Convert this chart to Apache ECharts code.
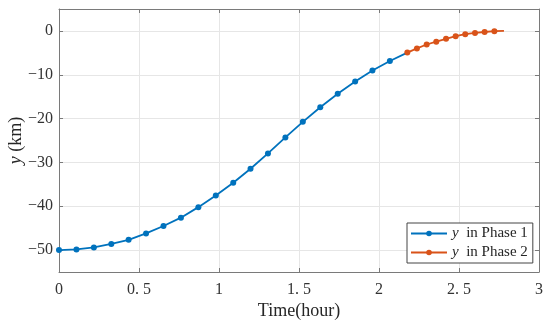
<!DOCTYPE html>
<html>
<head>
<meta charset="utf-8">
<script src="https://cdn.jsdelivr.net/npm/echarts@6/dist/echarts.min.js"></script>
<style>html,body{margin:0;padding:0;background:#fff}#c{width:550px;height:326px}</style>
</head>
<body>
<div id="c"></div>
<script>
var phase1Time = [0, 0.109, 0.218, 0.327, 0.435, 0.544, 0.653, 0.762, 0.871, 0.980, 1.089, 1.197, 1.306, 1.415, 1.524, 1.633, 1.742, 1.851, 1.959, 2.068, 2.177];
var phase1Y = [-50, -49.85, -49.4, -48.6, -47.65, -46.2, -44.5, -42.6, -40.2, -37.55, -34.65, -31.45, -27.95, -24.3, -20.75, -17.4, -14.35, -11.55, -9.05, -6.85, -4.95];
var phase2Time = [2.177, 2.237, 2.298, 2.358, 2.419, 2.479, 2.539, 2.600, 2.660, 2.721, 2.781];
var phase2Y = [-4.95, -4.0, -3.1, -2.45, -1.8, -1.2, -0.75, -0.45, -0.25, -0.05, 0];
var xTicks = [0, 0.5, 1, 1.5, 2, 2.5, 3];
var yTicks = [-50, -40, -30, -20, -10, 0];

function build(t, y) {
  return t.map(function (v, i) {
    var item = { value: [v, y[i]] };
    if (i === t.length - 1) item.symbol = 'none';
    return item;
  });
}
var serif = 'Liberation Serif';
var axisCol = '#7a7a7a';
var chart = echarts.init(document.getElementById('c'));
chart.setOption({
  animation: false,
  backgroundColor: '#fff',
  grid: { left: 59, right: 11, top: 9, bottom: 54, containLabel: false, outerBoundsMode: 'none' },
  legend: {
    left: 407, top: 223,
    orient: 'vertical',
    itemWidth: 36, itemHeight: 7, itemGap: 4,
    padding: [3, 5, 3, 3],
    backgroundColor: '#fff',
    borderColor: '#444', borderWidth: 1, borderRadius: 0,
    textStyle: {
      fontFamily: serif, fontSize: 15, color: '#262626',
      rich: { it: { fontFamily: serif, fontStyle: 'italic', fontSize: 15, color: '#262626' } }
    },
    formatter: function (name) { return name.replace('y', '{it|y} '); },
    data: ['y in Phase 1', 'y in Phase 2']
  },
  xAxis: [{
    type: 'value', min: 0, max: 3, interval: 0.5,
    name: 'Time(hour)', nameLocation: 'middle', nameGap: 30, nameMoveOverlap: false,
    nameTextStyle: { fontFamily: serif, fontSize: 18, color: '#262626' },
    axisLine: { show: true, onZero: false, lineStyle: { color: axisCol } },
    axisTick: { show: true, inside: true, length: 4, lineStyle: { color: axisCol } },
    axisLabel: {
      fontFamily: serif, fontSize: 16, color: '#333', margin: 10,
      formatter: function (v) { return String(v).replace('.', '. '); }
    },
    splitLine: { show: true, lineStyle: { color: '#e6e6e6' } }
  }, {
    type: 'value', min: 0, max: 3, interval: 0.5, position: 'top',
    axisLine: { show: true, onZero: false, lineStyle: { color: axisCol } },
    axisTick: { show: true, inside: true, length: 4, lineStyle: { color: axisCol } },
    axisLabel: { show: false }, splitLine: { show: false }
  }],
  yAxis: [{
    type: 'value', min: -55, max: 5, splitNumber: 6,
    name: '{it|y} (km)', nameLocation: 'middle', nameGap: 34, nameRotate: 90, nameMoveOverlap: false,
    nameTextStyle: {
      fontFamily: serif, fontSize: 18, color: '#262626',
      rich: { it: { fontFamily: serif, fontStyle: 'italic', fontSize: 18, color: '#262626' } }
    },
    axisLine: { show: true, onZero: false, lineStyle: { color: axisCol } },
    axisTick: { show: true, inside: true, length: 4, lineStyle: { color: axisCol } },
    axisLabel: {
      fontFamily: serif, fontSize: 16, color: '#333', margin: 6,
      showMinLabel: false, showMaxLabel: false,
      formatter: function (v) { return yTicks.indexOf(v) < 0 ? '' : (v < 0 ? '\u2212' + Math.abs(v) : String(v)); }
    },
    splitLine: { show: true, lineStyle: { color: '#e6e6e6' } }
  }, {
    type: 'value', min: -55, max: 5, splitNumber: 6, position: 'right',
    axisLine: { show: true, onZero: false, lineStyle: { color: axisCol } },
    axisTick: { show: true, inside: true, length: 4, lineStyle: { color: axisCol } },
    axisLabel: { show: false }, splitLine: { show: false }
  }],
  series: [{
    name: 'y in Phase 1', type: 'line', data: build(phase1Time, phase1Y),
    symbol: 'circle', symbolSize: 6, showAllSymbol: true,
    lineStyle: { color: '#0072BD', width: 1.8 },
    itemStyle: { color: '#0072BD' }
  }, {
    name: 'y in Phase 2', type: 'line', data: build(phase2Time, phase2Y),
    symbol: 'circle', symbolSize: 6, showAllSymbol: true,
    lineStyle: { color: '#D95319', width: 1.8 },
    itemStyle: { color: '#D95319' }
  }]
});
</script>
</body>
</html>
